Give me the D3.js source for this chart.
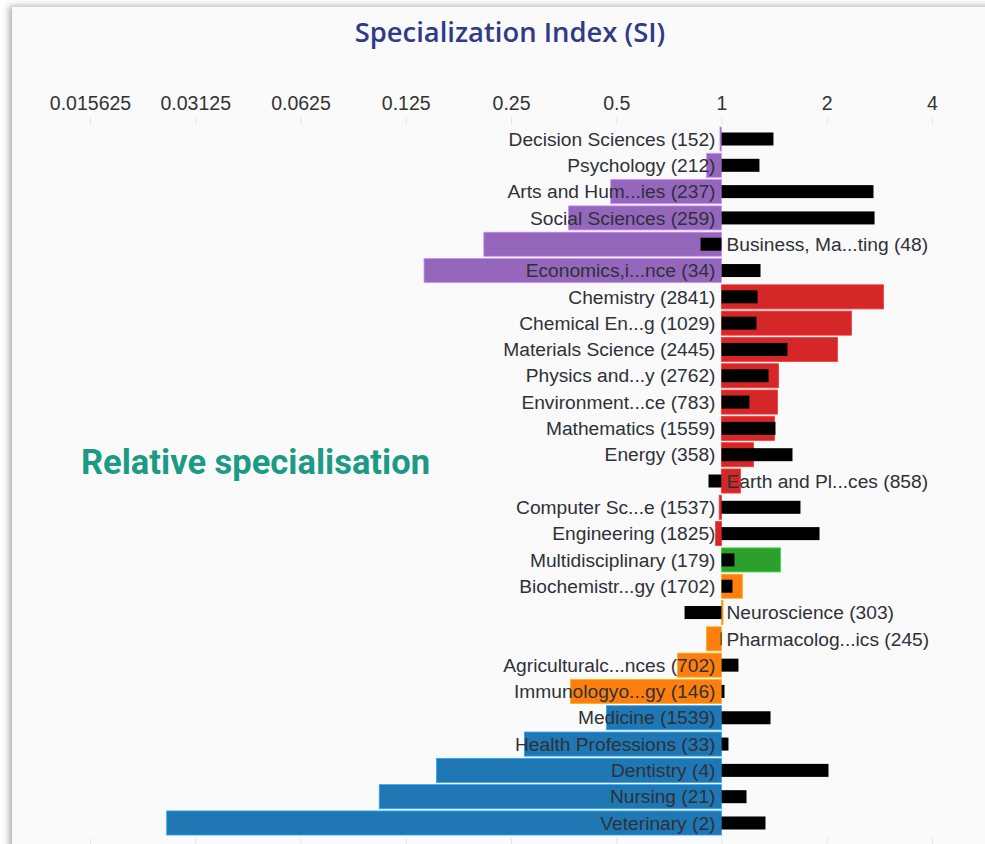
<!DOCTYPE html>
<html>
<head>
<meta charset="utf-8">
<script src="https://cdn.jsdelivr.net/npm/d3@7"></script>
<style>
  html, body { margin: 0; padding: 0; background: #ffffff; overflow: hidden; }
  #wrap { position: relative; width: 985px; height: 844px; overflow: hidden; }
  #card {
    position: absolute; left: 12px; top: 7px; width: 1000px; height: 900px;
    background: #fafafa;
    box-shadow: -3px -1px 7px rgba(0,0,0,0.32);
  }
  svg { position: absolute; left: 0; top: 0; }
</style>
</head>
<body>
<div id="wrap">
  <div id="card"></div>
  <svg id="chart" width="985" height="844"></svg>
</div>
<script>
// Subject areas, top to bottom, with publication counts
const categories = [
  "Decision Sciences", "Psychology", "Arts and Hum...ies", "Social Sciences",
  "Business, Ma...ting", "Economics,i...nce", "Chemistry", "Chemical En...g",
  "Materials Science", "Physics and...y", "Environment...ce", "Mathematics",
  "Energy", "Earth and Pl...ces", "Computer Sc...e", "Engineering",
  "Multidisciplinary", "Biochemistr...gy", "Neuroscience", "Pharmacolog...ics",
  "Agriculturalc...nces", "Immunologyo...gy", "Medicine", "Health Professions",
  "Dentistry", "Nursing", "Veterinary"
];
const counts = [152, 212, 237, 259, 48, 34, 2841, 1029, 2445, 2762, 783, 1559,
  358, 858, 1537, 1825, 179, 1702, 303, 245, 702, 146, 1539, 33, 4, 21, 2];

// Specialization index per subject (coloured bars)
const siValues = [0.99, 0.906, 0.482, 0.365, 0.209, 0.141, 2.906, 2.354,
  2.147, 1.456, 1.446, 1.418, 1.235, 1.133, 0.985, 0.962, 1.475, 1.148,
  1.01, 0.906, 0.748, 0.370, 0.469, 0.273, 0.153, 0.105, 0.0259];

// Second index per subject (black bars)
const refValues = [1.408, 1.284, 2.721, 2.740, 0.871, 1.293, 1.268, 1.259,
  1.544, 1.363, 1.202, 1.427, 1.596, 0.918, 1.682, 1.907, 1.089, 1.075,
  0.784, 0.995, 1.118, 1.020, 1.381, 1.047, 2.023, 1.179, 1.336];

// Subject group for each row
const groups = [
  "social", "social", "social", "social", "social", "social",
  "physical", "physical", "physical", "physical", "physical", "physical",
  "physical", "physical", "physical", "physical",
  "multi", "life", "life", "life", "life", "life",
  "health", "health", "health", "health", "health"
];
const groupColors = {
  social: "#9467bd", physical: "#d62728", multi: "#2ca02c",
  life: "#ff7f0e", health: "#1f77b4"
};

const tickValues = [0.015625, 0.03125, 0.0625, 0.125, 0.25, 0.5, 1, 2, 4];

const svg = d3.select("#chart");

const x = d3.scaleLog().base(2).domain([0.015625, 4]).range([90, 932]);
const y = d3.scaleBand().domain(categories).range([125.85, 836.15]).padding(0);

const rows = categories.map((c, i) => ({
  name: c, count: counts[i], si: siValues[i], ref: refValues[i], group: groups[i]
}));

const labelFont = "'Liberation Sans', Arial, Helvetica, sans-serif";

// Title
svg.append("text")
  .attr("x", 510).attr("y", 42)
  .attr("text-anchor", "middle")
  .style("font-family", "'Open Sans', sans-serif")
  .style("font-size", "27.4px")
  .style("font-weight", 600)
  .style("fill", "#2f3a88")
  .text("Specialization Index (SI)");

// Top axis
const axisTop = svg.append("g")
  .attr("transform", "translate(0,125)")
  .call(d3.axisTop(x).tickValues(tickValues).tickFormat(d => String(d)).tickSize(8).tickPadding(7));
axisTop.select(".domain").remove();
axisTop.selectAll(".tick line").attr("stroke", "#e6e6e6");
axisTop.selectAll(".tick text")
  .style("font-family", labelFont)
  .style("font-size", "19.5px")
  .style("fill", "#333");

// Bottom axis ticks
const axisBottom = svg.append("g")
  .attr("transform", "translate(0,838)")
  .call(d3.axisBottom(x).tickValues(tickValues).tickFormat("").tickSize(8));
axisBottom.select(".domain").remove();
axisBottom.selectAll(".tick line").attr("stroke", "#e6e6e6");

const bw = y.bandwidth();
const siH = bw * 0.915;
const refH = 13;

// Coloured SI bars
svg.append("g").selectAll("rect")
  .data(rows)
  .join("rect")
  .attr("x", d => Math.min(x(d.si), x(1)))
  .attr("width", d => Math.max(Math.abs(x(d.si) - x(1)), 0.8))
  .attr("y", d => y(d.name) + (bw - siH) / 2)
  .attr("height", siH)
  .attr("fill", d => groupColors[d.group])
  .attr("stroke", d => d3.color(groupColors[d.group]).brighter(0.9))
  .attr("stroke-width", 0.8);

// Black bars
svg.append("g").selectAll("rect")
  .data(rows)
  .join("rect")
  .attr("x", d => Math.min(x(d.ref), x(1)))
  .attr("width", d => Math.abs(x(d.ref) - x(1)))
  .attr("y", d => y(d.name) + (bw - refH) / 2)
  .attr("height", refH)
  .attr("fill", "#000");

// Row labels, placed on the side away from the black bar
svg.append("g").selectAll("text")
  .data(rows)
  .join("text")
  .attr("x", d => d.ref < 1 ? x(1) + 5 : x(1) - 6)
  .attr("y", d => y(d.name) + bw / 2)
  .attr("dy", "0.35em")
  .attr("text-anchor", d => d.ref < 1 ? "start" : "end")
  .style("font-family", labelFont)
  .style("font-size", "19.2px")
  .style("fill", "#2e3138")
  .text(d => `${d.name} (${d.count})`);

// Side annotation
svg.append("text")
  .attr("x", 81).attr("y", 474)
  .style("font-family", "Roboto, sans-serif")
  .style("font-size", "34.5px")
  .style("font-weight", 700)
  .style("fill", "#1b9a86")
  .text("Relative specialisation");
</script>
</body>
</html>
